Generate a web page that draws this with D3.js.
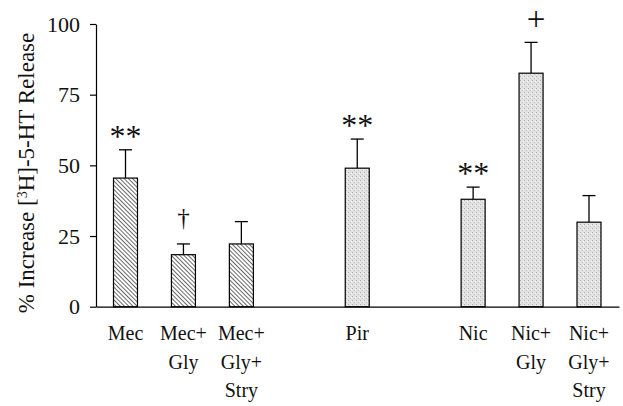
<!DOCTYPE html>
<html>
<head>
<meta charset="utf-8">
<script src="https://cdn.jsdelivr.net/npm/d3@7"></script>
<style>
  body { margin: 0; background: #fff; }
  svg { display: block; font-family: "Liberation Serif", "Times New Roman", serif; }
</style>
</head>
<body>
<div id="chart"></div>
<script>
// slots along the x axis (two empty ones separate the groups)
const slots = ["Mec", "Mec+Gly", "Mec+Gly+Stry", "gap1", "Pir", "gap2", "Nic", "Nic+Gly", "Nic+Gly+Stry"];
const categories = ["Mec", "Mec+Gly", "Mec+Gly+Stry", "Pir", "Nic", "Nic+Gly", "Nic+Gly+Stry"];
const labelLines = [["Mec"], ["Mec+", "Gly"], ["Mec+", "Gly+", "Stry"], ["Pir"], ["Nic"], ["Nic+", "Gly"], ["Nic+", "Gly+", "Stry"]];
const means = [45.5, 18.4, 22.2, 49.0, 38.0, 82.6, 29.9];
const errors = [10.0, 3.8, 7.9, 10.3, 4.3, 10.9, 9.4];
const fills = ["hatch", "hatch", "hatch", "dots", "dots", "dots", "dots"];
const marks = ["**", "\u2020", "", "**", "**", "+", ""];
const yTicks = [0, 25, 50, 75, 100];

const width = 623, height = 406;

const svg = d3.select("#chart").append("svg")
    .attr("width", width)
    .attr("height", height);

let defs = svg.append("defs");
let hatch = defs.append("pattern")
    .attr("id", "hatch")
    .attr("patternUnits", "userSpaceOnUse")
    .attr("width", 3)
    .attr("height", 3)
    .attr("patternTransform", "rotate(-45)");
hatch.append("rect").attr("width", 3).attr("height", 3).attr("fill", "#fff");
hatch.append("line")
    .attr("x1", 0.5).attr("y1", 0).attr("x2", 0.5).attr("y2", 3)
    .attr("stroke", "#6a6a6a").attr("stroke-width", 1);

let dots = defs.append("pattern")
    .attr("id", "dots")
    .attr("patternUnits", "userSpaceOnUse")
    .attr("width", 4)
    .attr("height", 4);
dots.append("rect").attr("width", 4).attr("height", 4).attr("fill", "#e2e2e2");
dots.append("rect").attr("x", 0).attr("y", 0).attr("width", 1).attr("height", 1).attr("fill", "#b0b0b0");
dots.append("rect").attr("x", 2).attr("y", 2).attr("width", 1).attr("height", 1).attr("fill", "#c4c4c4");
dots.append("rect").attr("x", 3).attr("y", 1).attr("width", 1).attr("height", 1).attr("fill", "#f6f6f6");

const x = d3.scalePoint().domain(slots).range([125.5, 589]);
const y = d3.scaleLinear().domain([0, 100]).range([306.7, 24]);
const barW = 24;

// y axis
svg.append("g")
    .attr("transform", "translate(96,0)")
    .call(d3.axisLeft(y).tickValues(yTicks).tickSize(6).tickSizeOuter(0).tickPadding(10))
    .call(g => g.selectAll("path, line").attr("stroke", "#000").attr("stroke-width", 1.2))
    .call(g => g.selectAll("text").attr("font-size", 22).attr("fill", "#111")
        .style("font-family", "'Liberation Serif', serif"));

// x baseline
const xLine = d3.scaleLinear().range([96, 619]);
svg.append("g")
    .attr("transform", "translate(0," + y(0) + ")")
    .call(d3.axisBottom(xLine).ticks(0).tickSizeOuter(0))
    .call(g => g.select("path").attr("stroke", "#000").attr("stroke-width", 1.3));

// y title
svg.append("text")
    .attr("transform", "translate(34,173) rotate(-90)")
    .attr("text-anchor", "middle")
    .attr("font-size", 23)
    .attr("fill", "#111")
    .call(t => {
        t.append("tspan").text("% Increase [");
        t.append("tspan").attr("baseline-shift", "super").attr("font-size", 14).text("3");
        t.append("tspan").text("H]-5-HT Release");
    });

const bars = categories.map((c, i) => ({
    cat: c, mean: means[i], err: errors[i], fill: fills[i], mark: marks[i], lines: labelLines[i]
}));

// error bars
let eb = svg.append("g").attr("stroke", "#000").attr("stroke-width", 1.3);
eb.selectAll("line.v").data(bars).join("line")
    .attr("class", "v")
    .attr("x1", d => x(d.cat)).attr("x2", d => x(d.cat))
    .attr("y1", d => y(d.mean)).attr("y2", d => y(d.mean + d.err));
eb.selectAll("line.cap").data(bars).join("line")
    .attr("class", "cap")
    .attr("x1", d => x(d.cat) - 6.5).attr("x2", d => x(d.cat) + 6.5)
    .attr("y1", d => y(d.mean + d.err)).attr("y2", d => y(d.mean + d.err));

// bars
svg.append("g").selectAll("rect").data(bars).join("rect")
    .attr("x", d => x(d.cat) - barW / 2)
    .attr("y", d => y(d.mean))
    .attr("width", barW)
    .attr("height", d => y(0) - y(d.mean))
    .attr("fill", d => "url(#" + d.fill + ")")
    .attr("stroke", "#000")
    .attr("stroke-width", 1.2);

// significance marks
svg.append("g").selectAll("text").data(bars.filter(d => d.mark)).join("text")
    .attr("x", d => x(d.cat) + (d.mark === "+" ? 5 : 0))
    .attr("y", d => d.mark === "+" ? 29.5 : y(d.mean + d.err) - (d.mark === "**" ? 3 : 18))
    .attr("text-anchor", "middle")
    .attr("font-size", d => d.mark === "**" ? 32 : d.mark === "+" ? 33 : 25)
    .attr("fill", "#111")
    .text(d => d.mark);

// category labels
let lab = svg.append("g").attr("font-size", 20).attr("fill", "#111").attr("text-anchor", "middle");
lab.selectAll("text").data(bars).join("text")
    .attr("x", d => x(d.cat))
    .attr("y", 340)
    .each(function(d) {
        d3.select(this).selectAll("tspan").data(d.lines).join("tspan")
            .attr("x", x(d.cat))
            .attr("dy", (s, i) => i === 0 ? 0 : 28.5)
            .text(s => s);
    });
</script>
</body>
</html>
